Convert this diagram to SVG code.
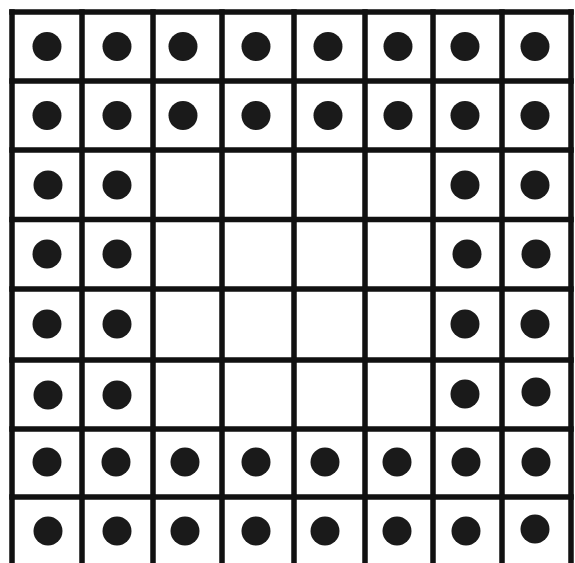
<svg xmlns="http://www.w3.org/2000/svg" width="575" height="563" viewBox="0 0 575 563">
<style>
.g{stroke:#111;stroke-width:5.5;fill:none;stroke-linecap:square}
.d{fill:#1a1a1a}
</style>
<rect width="575" height="563" fill="#fff"/>
<g id="grid" class="g">
<path d="M12,12V566M82,12V566M153,12V566M222,12V566M294,12V566M365,12V566M433,12V566M502,12V566M571,12V566"/>
<path d="M12,12H571M12,81H571M12,150H571M12,219.5H571M12,289H571M12,360H571M12,429H571M12,497H571M12,566H571"/>
</g>
<g id="dots" class="d">
<circle cx="47" cy="46.5" r="14.5"/><circle cx="117" cy="46.5" r="14.5"/><circle cx="183" cy="46.5" r="14.5"/><circle cx="256" cy="46.5" r="14.5"/><circle cx="328" cy="46.5" r="14.5"/><circle cx="398" cy="46.5" r="14.5"/><circle cx="465" cy="46.5" r="14.5"/><circle cx="535" cy="46.5" r="14.5"/>
<circle cx="47" cy="115.5" r="14.5"/><circle cx="117" cy="115.5" r="14.5"/><circle cx="183" cy="115.5" r="14.5"/><circle cx="256" cy="115.5" r="14.5"/><circle cx="328" cy="115.5" r="14.5"/><circle cx="398" cy="115.5" r="14.5"/><circle cx="465" cy="115.5" r="14.5"/><circle cx="535" cy="115.5" r="14.5"/>
<circle cx="48" cy="185" r="14.5"/><circle cx="117" cy="185" r="14.5"/><circle cx="465" cy="185" r="14.5"/><circle cx="535" cy="185" r="14.5"/>
<circle cx="47" cy="254" r="14.5"/><circle cx="117" cy="254" r="14.5"/><circle cx="467" cy="254" r="14.5"/><circle cx="536" cy="254" r="14.5"/>
<circle cx="47" cy="324" r="14.5"/><circle cx="117" cy="324" r="14.5"/><circle cx="465" cy="324" r="14.5"/><circle cx="535" cy="324" r="14.5"/>
<circle cx="48" cy="395" r="14.5"/><circle cx="117" cy="395" r="14.5"/><circle cx="465" cy="394" r="14.5"/><circle cx="536" cy="392" r="14.5"/>
<circle cx="47" cy="462" r="14.5"/><circle cx="116" cy="462" r="14.5"/><circle cx="185" cy="462" r="14.5"/><circle cx="256" cy="462" r="14.5"/><circle cx="325" cy="462" r="14.5"/><circle cx="397" cy="462" r="14.5"/><circle cx="466" cy="462" r="14.5"/><circle cx="536" cy="462" r="14.5"/>
<circle cx="48" cy="531" r="14.5"/><circle cx="117" cy="531" r="14.5"/><circle cx="185" cy="531" r="14.5"/><circle cx="256" cy="531" r="14.5"/><circle cx="325" cy="531" r="14.5"/><circle cx="397" cy="531" r="14.5"/><circle cx="466" cy="531" r="14.5"/><circle cx="535" cy="529" r="14.5"/>
</g>
</svg>
